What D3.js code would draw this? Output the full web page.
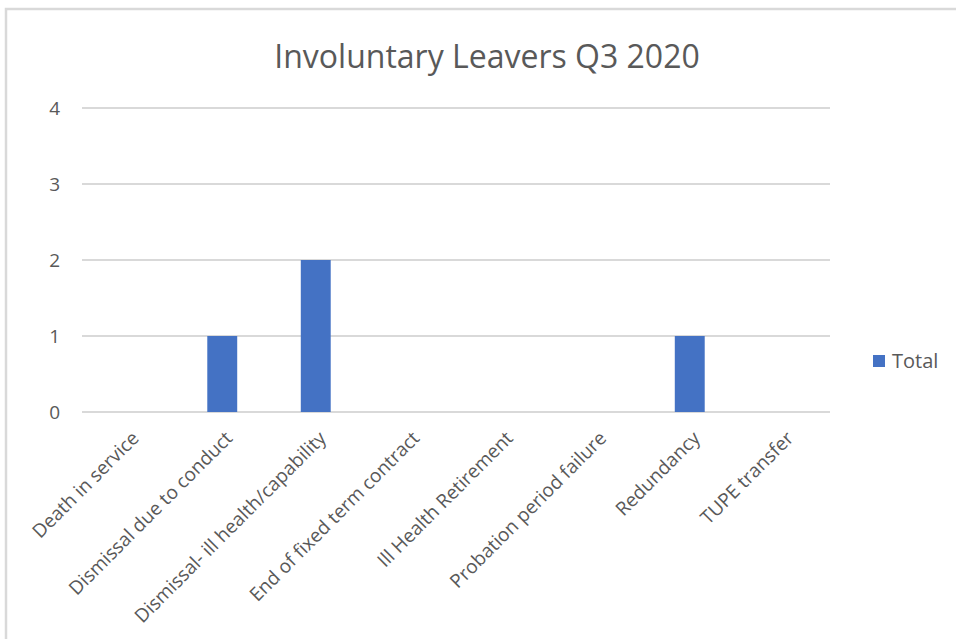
<!DOCTYPE html>
<html>
<head>
<meta charset="utf-8">
<script src="https://cdn.jsdelivr.net/npm/d3@7"></script>
<style>
  html, body { margin: 0; padding: 0; background: #fff; }
  svg { display: block; }
</style>
</head>
<body>
<script>
const categories = [
  "Death in service",
  "Dismissal due to conduct",
  "Dismissal- ill health/capability",
  "End of fixed term contract",
  "Ill Health Retirement",
  "Probation period failure",
  "Redundancy",
  "TUPE transfer"
];
const totals = [0, 1, 2, 0, 0, 0, 1, 0];
const yTicks = [0, 1, 2, 3, 4];
const seriesName = "Total";
const titleText = "Involuntary Leavers Q3 2020";

const W = 956, H = 639;
const font = "'Open Sans', 'Liberation Sans', sans-serif";
const textColor = "#595959";
const gridColor = "#d9d9d9";
const barColor = "#4472c4";

const svg = d3.select("body").append("svg").attr("width", W).attr("height", H);

// chart area border
svg.append("rect").attr("x", 6).attr("y", 9).attr("width", W + 10).attr("height", H + 10)
  .attr("fill", "#fff").attr("stroke", gridColor).attr("stroke-width", 2.5);

const plot = { left: 82, right: 830, top: 108, bottom: 412 };

const x = d3.scaleBand().domain(categories).range([plot.left, plot.right]).paddingInner(0.68).paddingOuter(0.34);
const y = d3.scaleLinear().domain([0, 4]).range([plot.bottom, plot.top]);

// gridlines
svg.append("g").selectAll("line").data(yTicks).join("line")
  .attr("x1", plot.left).attr("x2", plot.right)
  .attr("y1", d => y(d)).attr("y2", d => y(d))
  .attr("stroke", gridColor).attr("stroke-width", 2);

// y axis labels
const yAxis = d3.axisLeft(y).tickValues(yTicks).tickSize(0).tickPadding(22).tickFormat(d3.format("d"));
const ya = svg.append("g").attr("transform", `translate(${plot.left},0)`).call(yAxis);
ya.select(".domain").remove();
ya.selectAll("text").attr("font-family", font).attr("font-size", 19).attr("fill", textColor);

// bars
svg.append("g").selectAll("rect").data(totals).join("rect")
  .attr("x", (d, i) => x(categories[i]))
  .attr("width", x.bandwidth())
  .attr("y", d => y(d))
  .attr("height", d => y(0) - y(d))
  .attr("fill", barColor);

// category labels
svg.append("g").selectAll("text").data(categories).join("text")
  .attr("transform", d => `translate(${x(d) + x.bandwidth() / 2 + 2},${plot.bottom + 18}) rotate(-45)`)
  .attr("text-anchor", "end")
  .attr("dy", "0.7em")
  .attr("font-family", font).attr("font-size", 19).attr("fill", textColor)
  .text(d => d);

// title
svg.append("text").attr("x", 487).attr("y", 68).attr("text-anchor", "middle")
  .attr("font-family", font).attr("font-size", 32).attr("fill", textColor)
  .text(titleText);

// legend
svg.append("rect").attr("x", 873).attr("y", 355).attr("width", 12).attr("height", 12).attr("fill", barColor);
svg.append("text").attr("x", 892).attr("y", 368).attr("font-family", font).attr("font-size", 20)
  .attr("fill", textColor).text(seriesName);
</script>
</body>
</html>
